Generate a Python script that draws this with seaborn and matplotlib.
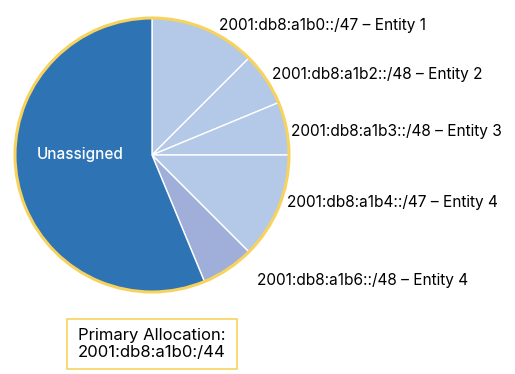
import matplotlib
matplotlib.use("Agg")
import matplotlib.pyplot as plt
from matplotlib.patches import Rectangle
import seaborn as sns

sns.set_theme(style="white")
plt.rcParams['font.family'] = ['Inter', 'DejaVu Sans']

labels = ["2001:db8:a1b0::/47 – Entity 1",
          "2001:db8:a1b2::/48 – Entity 2",
          "2001:db8:a1b3::/48 – Entity 3",
          "2001:db8:a1b4::/47 – Entity 4",
          "2001:db8:a1b6::/48 – Entity 4",
          "Unassigned"]
sizes = [2, 1, 1, 2, 1, 9]  # in /48 units
colors = ["#b4c9e7", "#b4c9e7", "#b4c9e7", "#b4c9e7", "#a0afd9", "#2e74b5"]
summary_lines = ["Primary Allocation:", "2001:db8:a1b0:/44"]

W, H = 515, 374
fig = plt.figure(figsize=(W / 100, H / 100), dpi=100)
ax = fig.add_axes([15 / W, 82 / H, 274 / W, 274 / H])

wedges, texts = ax.pie(sizes, labels=labels, colors=colors, startangle=90,
                       counterclock=False, labeldistance=1.07,
                       wedgeprops=dict(edgecolor="white", linewidth=1.0),
                       textprops=dict(fontsize=11.1, color="black"))
# outer yellow ring
ax.pie([1], radius=1.0, colors=["none"],
       wedgeprops=dict(edgecolor="#f7d35e", linewidth=2.2, fill=False))

# label nudges (in data units)
offsets = [(0.08, -0.04), (-0.015, -0.01), (-0.035, -0.04), (0.0, 0.06), (0.17, -0.03)]
for t, (dx, dy) in zip(texts[:5], offsets):
    x, y = t.get_position()
    t.set_position((x + dx, y + dy))
    t.set_ha("left")
    t.set_va("center")
un = texts[5]
un.set_position((-0.525, 0.0))
un.set_ha("center")
un.set_va("center")
un.set_color("white")
un.set_fontsize(11)
un.set_fontweight("medium")

ax.set_xlim(-1.0, 1.0)
ax.set_ylim(-1.0, 1.0)
ax.set_aspect("equal")
ax.axis("off")

fig.patches.append(Rectangle((67 / W, 1 - 369 / H), 170 / W, 50 / H,
                             transform=fig.transFigure, fc="white",
                             ec="#f7d35e", lw=1.2))
fig.text(78 / W, 1 - 344 / H, "\n".join(summary_lines), fontsize=12,
         color="black", ha="left", va="center", linespacing=1.1)

fig.savefig("out.png", dpi=100)
